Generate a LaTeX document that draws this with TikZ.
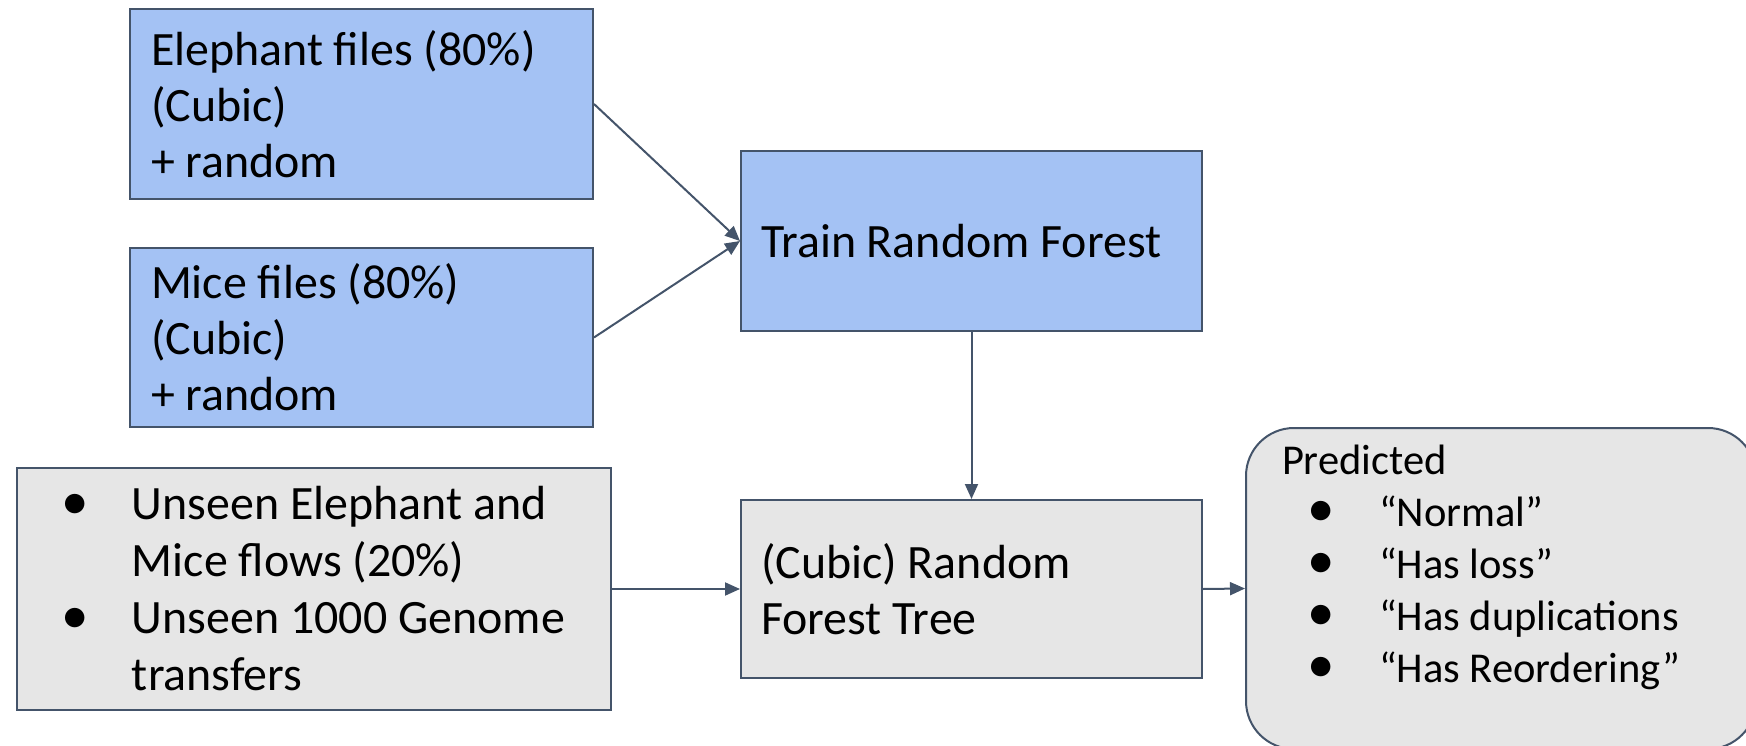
\documentclass[tikz,border=0pt]{standalone}
\usepackage{fontspec}
\setmainfont{Carlito}
\usetikzlibrary{arrows.meta}
\definecolor{edgecol}{RGB}{68,84,106}
\definecolor{bluefill}{RGB}{164,194,244}
\definecolor{grayfill}{RGB}{230,230,230}
\newcommand{\bigtxt}{\fontsize{47.9}{56}\selectfont}
\newcommand{\listtxt}{\fontsize{47.9}{57}\selectfont}
\newcommand{\smalltxt}{\fontsize{42.5}{52}\selectfont}
\newcommand{\bulglyph}{{\fontsize{55}{52}\selectfont\textbullet}}
% bullet column: total width #1, bullet centred in first #2
\newcommand{\bulcol}[2]{\leavevmode\hbox to #1{\hbox to #2{\hss\bulglyph\hss}\hss}}
\begin{document}
\begin{tikzpicture}[x=1pt,y=-1pt,
  boxbase/.style={draw=edgecol, line width=2pt, rectangle, anchor=north west,
    align=flush left, inner ysep=0pt, text=black},
  bluebox/.style={boxbase, fill=bluefill, font=\bigtxt},
  graybox/.style={boxbase, fill=grayfill, font=\bigtxt},
  conn/.style={draw=edgecol, line width=2pt, -{Triangle[length=15pt,width=13pt]}}
]
\path[use as bounding box, clip] (0,0) rectangle (1746,746);

\node[bluebox, minimum width=463pt, minimum height=190pt, inner xsep=21pt, text width=421pt]
  (eleph) at (129,8) {Elephant files (80\%)\\(Cubic)\\+ random};
\node[bluebox, minimum width=463pt, minimum height=179pt, inner xsep=21pt, text width=421pt]
  (mice) at (129,247) {Mice files (80\%)\\(Cubic)\\+ random};
\node[bluebox, minimum width=461pt, minimum height=180pt, inner xsep=20pt, text width=421pt]
  (train) at (740,150) {Train Random Forest};
\node[graybox, minimum width=594pt, minimum height=242pt, inner xsep=1pt]
  (unseen) at (16,467) {\parbox{592pt}{\listtxt
    \bulcol{114pt}{114pt}Unseen Elephant and\\
    \leavevmode\hspace*{114pt}Mice flows (20\%)\\
    \bulcol{114pt}{114pt}Unseen 1000 Genome\\
    \leavevmode\hspace*{114pt}transfers}};
\node[graybox, minimum width=461pt, minimum height=178pt, inner xsep=20pt, text width=421pt]
  (cubic) at (740,499) {(Cubic) Random\\Forest Tree};
\node[boxbase, fill=grayfill, rounded corners=48pt, minimum width=510pt, minimum height=321pt,
  inner xsep=36pt, inner ysep=17pt, font=\smalltxt]
  (pred) at (1245,427) {\parbox[c][287pt][t]{438pt}{\smalltxt Predicted\\
    \bulcol{97pt}{78pt}``Normal''\\
    \bulcol{97pt}{78pt}``Has loss''\\
    \bulcol{97pt}{78pt}``Has duplications\\
    \bulcol{97pt}{78pt}``Has Reordering''}};

\draw[conn] (eleph.east) -- (train.west);
\draw[conn] (mice.east) -- (train.west);
\draw[conn] (train.south) -- (cubic.north);
\draw[conn] (unseen.east) -- (cubic.west);
\draw[conn] (cubic.east) -- (pred.west);
\end{tikzpicture}
\end{document}
